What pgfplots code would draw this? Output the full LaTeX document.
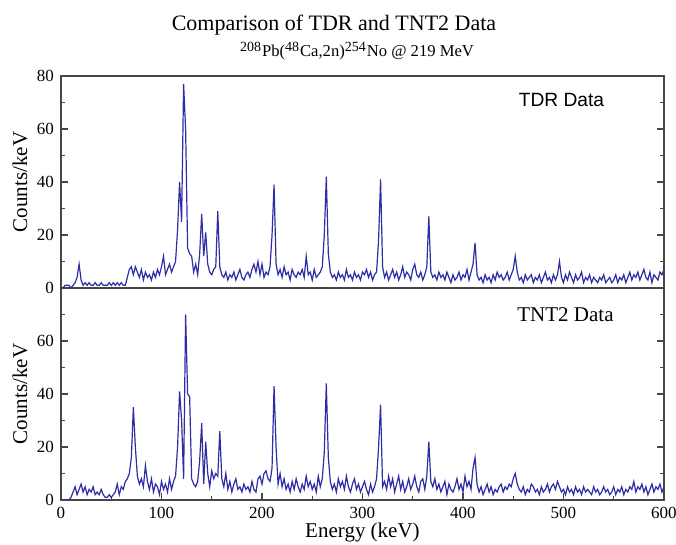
\documentclass[border=0pt]{standalone}
\usepackage{fontspec}
\setmainfont{Liberation Serif}
\newfontfamily\labelsans{Liberation Sans}
\usepackage{pgfplots}
\usepackage{pgfplotstable}
\pgfplotsset{compat=1.18}

\definecolor{specblue}{RGB}{45,45,165}
\definecolor{frame}{RGB}{70,70,70}

% 2 keV bins, counts/keV
\pgfplotstableread[row sep=\\]{
x y\\
0 0\\ 2 0\\ 4 1\\ 6 1\\ 8 1\\ 10 0\\ 12 1\\ 14 2\\ 16 4\\ 18 9\\
20 3\\ 22 1\\ 24 2\\ 26 1\\ 28 2\\ 30 1\\ 32 1\\ 34 2\\ 36 1\\ 38 1\\
40 2\\ 42 1\\ 44 1\\ 46 1\\ 48 2\\ 50 1\\ 52 2\\ 54 1\\ 56 2\\ 58 1\\
60 2\\ 62 1\\ 64 1\\ 66 4\\ 68 7\\ 70 8\\ 72 5\\ 74 8\\ 76 6\\ 78 4\\
80 7\\ 82 3\\ 84 6\\ 86 4\\ 88 5\\ 90 3\\ 92 6\\ 94 4\\ 96 7\\ 98 5\\
100 8\\ 102 12\\ 104 5\\ 106 7\\ 108 9\\ 110 6\\ 112 8\\ 114 10\\ 116 22\\ 118 40\\
120 25\\ 122 77\\ 124 60\\ 126 15\\ 128 13\\ 130 12\\ 132 6\\ 134 9\\ 136 5\\ 138 13\\
140 28\\ 142 12\\ 144 21\\ 146 9\\ 148 6\\ 150 5\\ 152 7\\ 154 8\\ 156 29\\ 158 8\\
160 5\\ 162 4\\ 164 6\\ 166 3\\ 168 5\\ 170 4\\ 172 6\\ 174 3\\ 176 5\\ 178 7\\
180 4\\ 182 3\\ 184 5\\ 186 6\\ 188 4\\ 190 7\\ 192 9\\ 194 6\\ 196 10\\ 198 5\\
200 9\\ 202 4\\ 204 6\\ 206 5\\ 208 8\\ 210 20\\ 212 39\\ 214 9\\ 216 5\\ 218 7\\
220 4\\ 222 8\\ 224 5\\ 226 6\\ 228 3\\ 230 7\\ 232 5\\ 234 4\\ 236 6\\ 238 5\\
240 7\\ 242 4\\ 244 12\\ 246 5\\ 248 6\\ 250 3\\ 252 7\\ 254 4\\ 256 5\\ 258 6\\
260 8\\ 262 20\\ 264 42\\ 266 13\\ 268 6\\ 270 4\\ 272 5\\ 274 3\\ 276 6\\ 278 4\\
280 5\\ 282 3\\ 284 7\\ 286 4\\ 288 5\\ 290 3\\ 292 6\\ 294 4\\ 296 5\\ 298 3\\
300 6\\ 302 5\\ 304 7\\ 306 4\\ 308 6\\ 310 3\\ 312 5\\ 314 6\\ 316 18\\ 318 41\\
320 8\\ 322 4\\ 324 6\\ 326 3\\ 328 5\\ 330 7\\ 332 4\\ 334 6\\ 336 3\\ 338 5\\
340 8\\ 342 4\\ 344 6\\ 346 5\\ 348 3\\ 350 7\\ 352 9\\ 354 5\\ 356 4\\ 358 6\\
360 3\\ 362 5\\ 364 8\\ 366 27\\ 368 6\\ 370 4\\ 372 5\\ 374 3\\ 376 6\\ 378 4\\
380 5\\ 382 3\\ 384 6\\ 386 4\\ 388 2\\ 390 5\\ 392 3\\ 394 4\\ 396 6\\ 398 3\\
400 5\\ 402 4\\ 404 7\\ 406 3\\ 408 6\\ 410 9\\ 412 17\\ 414 5\\ 416 3\\ 418 4\\
420 2\\ 422 5\\ 424 3\\ 426 4\\ 428 2\\ 430 5\\ 432 3\\ 434 6\\ 436 4\\ 438 5\\
440 3\\ 442 4\\ 444 6\\ 446 3\\ 448 5\\ 450 7\\ 452 12\\ 454 6\\ 456 3\\ 458 4\\
460 2\\ 462 5\\ 464 3\\ 466 4\\ 468 5\\ 470 2\\ 472 4\\ 474 3\\ 476 5\\ 478 2\\
480 4\\ 482 6\\ 484 3\\ 486 4\\ 488 2\\ 490 5\\ 492 3\\ 494 5\\ 496 10\\ 498 4\\
500 2\\ 502 5\\ 504 3\\ 506 6\\ 508 4\\ 510 2\\ 512 5\\ 514 3\\ 516 4\\ 518 6\\
520 2\\ 522 4\\ 524 3\\ 526 5\\ 528 2\\ 530 4\\ 532 3\\ 534 2\\ 536 4\\ 538 3\\
540 5\\ 542 2\\ 544 3\\ 546 4\\ 548 2\\ 550 3\\ 552 5\\ 554 2\\ 556 4\\ 558 3\\
560 5\\ 562 2\\ 564 4\\ 566 6\\ 568 3\\ 570 5\\ 572 4\\ 574 6\\ 576 3\\ 578 5\\
580 7\\ 582 4\\ 584 3\\ 586 6\\ 588 2\\ 590 5\\ 592 4\\ 594 3\\ 596 6\\ 598 5\\
600 7\\
}\tdrdata

\pgfplotstableread[row sep=\\]{
x y\\
0 0\\ 2 0\\ 4 0\\ 6 0\\ 8 0\\ 10 1\\ 12 3\\ 14 5\\ 16 2\\ 18 4\\
20 6\\ 22 3\\ 24 5\\ 26 2\\ 28 4\\ 30 3\\ 32 5\\ 34 2\\ 36 3\\ 38 2\\
40 4\\ 42 2\\ 44 1\\ 46 1\\ 48 2\\ 50 1\\ 52 2\\ 54 3\\ 56 6\\ 58 2\\
60 5\\ 62 4\\ 64 7\\ 66 8\\ 68 10\\ 70 16\\ 72 35\\ 74 20\\ 76 9\\ 78 6\\
80 8\\ 82 5\\ 84 13\\ 86 7\\ 88 4\\ 90 8\\ 92 3\\ 94 6\\ 96 5\\ 98 2\\
100 7\\ 102 4\\ 104 6\\ 106 3\\ 108 8\\ 110 4\\ 112 7\\ 114 9\\ 116 20\\ 118 41\\
120 30\\ 122 8\\ 124 70\\ 126 40\\ 128 39\\ 130 8\\ 132 6\\ 134 5\\ 136 7\\ 138 15\\
140 29\\ 142 6\\ 144 22\\ 146 10\\ 148 5\\ 150 11\\ 152 8\\ 154 10\\ 156 9\\ 158 26\\
160 8\\ 162 5\\ 164 10\\ 166 4\\ 168 7\\ 170 3\\ 172 6\\ 174 8\\ 176 4\\ 178 5\\
180 3\\ 182 6\\ 184 4\\ 186 5\\ 188 3\\ 190 7\\ 192 4\\ 194 3\\ 196 8\\ 198 9\\
200 6\\ 202 10\\ 204 11\\ 206 8\\ 208 7\\ 210 12\\ 212 43\\ 214 20\\ 216 6\\ 218 10\\
220 5\\ 222 8\\ 224 4\\ 226 6\\ 228 3\\ 230 7\\ 232 4\\ 234 8\\ 236 5\\ 238 3\\
240 6\\ 242 4\\ 244 9\\ 246 5\\ 248 7\\ 250 4\\ 252 6\\ 254 3\\ 256 9\\ 258 5\\
260 8\\ 262 18\\ 264 44\\ 266 16\\ 268 7\\ 270 4\\ 272 6\\ 274 3\\ 276 8\\ 278 5\\
280 7\\ 282 4\\ 284 9\\ 286 5\\ 288 3\\ 290 6\\ 292 8\\ 294 4\\ 296 6\\ 298 3\\
300 5\\ 302 7\\ 304 4\\ 306 2\\ 308 6\\ 310 3\\ 312 5\\ 314 8\\ 316 20\\ 318 36\\
320 5\\ 322 7\\ 324 4\\ 326 9\\ 328 5\\ 330 8\\ 332 3\\ 334 6\\ 336 9\\ 338 4\\
340 7\\ 342 3\\ 344 5\\ 346 8\\ 348 4\\ 350 6\\ 352 9\\ 354 5\\ 356 3\\ 358 7\\
360 8\\ 362 4\\ 364 9\\ 366 22\\ 368 7\\ 370 5\\ 372 8\\ 374 4\\ 376 6\\ 378 3\\
380 5\\ 382 7\\ 384 2\\ 386 6\\ 388 4\\ 390 3\\ 392 5\\ 394 8\\ 396 4\\ 398 6\\
400 3\\ 402 9\\ 404 5\\ 406 7\\ 408 4\\ 410 12\\ 412 16\\ 414 6\\ 416 3\\ 418 5\\
420 2\\ 422 4\\ 424 6\\ 426 3\\ 428 5\\ 430 2\\ 432 4\\ 434 3\\ 436 5\\ 438 6\\
440 3\\ 442 5\\ 444 4\\ 446 6\\ 448 5\\ 450 8\\ 452 10\\ 454 6\\ 456 4\\ 458 3\\
460 5\\ 462 2\\ 464 4\\ 466 3\\ 468 6\\ 470 5\\ 472 3\\ 474 4\\ 476 2\\ 478 5\\
480 3\\ 482 4\\ 484 6\\ 486 3\\ 488 5\\ 490 6\\ 492 4\\ 494 7\\ 496 5\\ 498 3\\
500 4\\ 502 2\\ 504 5\\ 506 3\\ 508 4\\ 510 2\\ 512 5\\ 514 3\\ 516 4\\ 518 2\\
520 5\\ 522 3\\ 524 4\\ 526 3\\ 528 2\\ 530 5\\ 532 3\\ 534 4\\ 536 2\\ 538 3\\
540 5\\ 542 3\\ 544 4\\ 546 2\\ 548 3\\ 550 5\\ 552 2\\ 554 4\\ 556 3\\ 558 5\\
560 2\\ 562 4\\ 564 3\\ 566 5\\ 568 4\\ 570 7\\ 572 3\\ 574 5\\ 576 4\\ 578 6\\
580 3\\ 582 5\\ 584 2\\ 586 4\\ 588 6\\ 590 3\\ 592 5\\ 594 4\\ 596 6\\ 598 3\\
600 5\\
}\tntdata

\pgfplotsset{
  spec/.style={
    width=301.5pt, height=106pt, scale only axis,
    xmin=0, xmax=600, ymin=0, ymax=80,
    axis line style={frame, line width=0.75pt},
    tick align=inside, tick style={frame, line width=0.6pt},
    major tick length=3.5pt, minor tick length=2pt,
    tick label style={font=\fontsize{8.5}{10}\selectfont},
    /pgf/number format/assume math mode=true,
    ylabel={Counts/keV},
    ylabel style={font=\fontsize{10.5}{12}\selectfont, at={(axis description cs:-0.068,0.5)}, anchor=center},
  },
}

\begin{document}
\begin{tikzpicture}
\path[use as bounding box] (-30.5pt,-22.5pt) rectangle (307.5pt,250pt);
% bottom panel: TNT2
\begin{axis}[spec, name=bot, at={(0,0)}, anchor=south west,
  xtick={0,100,...,600}, minor xtick={50,150,...,550}, xtick pos=lower,
  ytick={0,20,40,60}, minor ytick={10,30,50,70},
  xlabel={Energy (keV)},
  xlabel style={font=\fontsize{10.5}{12}\selectfont, at={(axis description cs:0.5,-0.155)}, anchor=center},
]
\addplot[specblue, line width=0.6pt, sharp plot] table[x=x, y=y] {\tntdata};
\node[font=\fontsize{10.5}{12}\selectfont] at (axis cs:502,70) {TNT2 Data};
\end{axis}
% top panel: TDR
\begin{axis}[spec, name=top, at={(0,106pt)}, anchor=south west,
  xtick=\empty,
  ytick={0,20,40,60,80}, minor ytick={10,30,50,70},
]
\addplot[specblue, line width=0.6pt, sharp plot] table[x=x, y=y] {\tdrdata};
\node[font=\labelsans\fontsize{9.6}{11}\selectfont] at (axis cs:498,71) {TDR Data};
\end{axis}
\node[font=\fontsize{11}{13}\selectfont] at ([xshift=136.5pt,yshift=25.5pt]top.north west) {Comparison of TDR and TNT2 Data};
\node[font=\fontsize{8.3}{10}\selectfont] at ([xshift=148pt,yshift=12.5pt]top.north west) {\textsuperscript{\scriptsize 208}Pb(\textsuperscript{\scriptsize 48}Ca,2n)\textsuperscript{\scriptsize 254}No @ 219 MeV};
\end{tikzpicture}
\end{document}
